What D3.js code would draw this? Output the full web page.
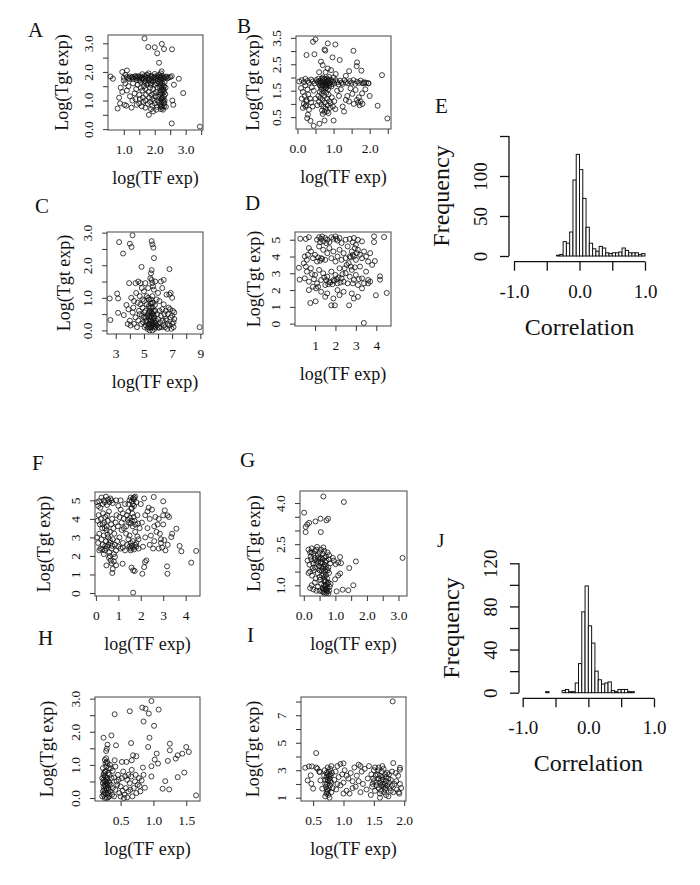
<!DOCTYPE html>
<html>
<head>
<meta charset="utf-8">
<script src="https://cdn.jsdelivr.net/npm/d3@7"></script>
<style>
body { margin: 0; background: #fff; }
text { font-family: "Liberation Serif", "Times New Roman", serif; fill: #111; }
</style>
</head>
<body>
<svg id="fig" width="700" height="885"></svg>
<script>
// ---- data: log(TF exp), Log(Tgt exp) pairs ----
const ptsA = [[1.67,3.17],[1.79,2.87],[2.0,2.86],[2.08,2.65],[2.23,2.98],[2.3,2.8],[2.56,2.79],[2.14,2.32],[2.22,2.02],
  [2.55,0.2],[3.46,0.09],[2.92,1.26],[2.78,1.76],[2.62,1.55],[2.57,1.0],[2.6,0.85],[2.5,1.82],[2.55,1.85],[2.45,1.8],
  [1.81,0.5],[1.95,0.62],[2.05,0.68],[1.7,0.75],[1.58,0.8],[1.5,0.9],[1.62,0.95],[1.88,0.7],[1.92,0.82],[2.0,0.9],
  [0.57,1.84],[0.65,1.76],[0.8,0.72],[0.85,1.1],[0.9,1.45],[0.95,2.0],[1.05,1.9],[1.1,2.05],[1.0,1.7],[1.02,0.85],[1.08,0.82],
  [1.1,1.35],[1.15,1.5],[1.2,1.15],[1.25,0.75],[1.28,1.0],[1.3,1.6],[1.35,1.25],[1.38,1.05],[1.42,0.85],[0.95,1.3],[1.18,1.75],[1.05,1.6],[0.88,0.9],
  [1.0,1.8],[1.1,1.82],[1.15,1.78],[1.2,1.84],[1.25,1.8],[1.3,1.76],[1.35,1.83],[1.4,1.79],[1.45,1.82],[1.5,1.77],[1.55,1.84],[1.6,1.8],
  [1.65,1.76],[1.7,1.83],[1.75,1.79],[1.8,1.85],[1.85,1.77],[1.9,1.82],[1.95,1.78],[2.0,1.84],[2.05,1.8],[2.1,1.76],[2.15,1.83],[2.2,1.79],
  [2.25,1.85],[2.3,1.8],[2.35,1.82],[2.4,1.77],[1.5,1.7],[1.6,1.92],[1.7,1.68],[1.8,1.95],[1.9,1.7],[2.0,1.93],[2.1,1.68],[2.2,1.95],
  [1.55,1.65],[1.75,1.9],[1.95,1.66],[2.15,1.9],[1.42,1.72],[1.62,1.72],[1.82,1.72],[2.02,1.72],[2.22,1.72],[1.68,1.62],[1.88,1.6],[2.08,1.6],
  [1.48,1.85],[1.58,1.78],[1.68,1.86],[1.78,1.74],[1.88,1.86],[1.98,1.8],[2.08,1.86],[2.18,1.82],[2.28,1.76],[2.38,1.84],[1.38,1.86],[1.28,1.82],
  [2.2,0.7],[2.25,0.75],[2.3,0.8],[2.18,0.85],[2.28,0.9],[2.22,0.95],[2.32,1.0],[2.2,1.05],[2.26,1.1],[2.3,1.15],[2.18,1.2],[2.24,1.25],
  [2.3,1.3],[2.2,1.35],[2.27,1.4],[2.22,1.45],[2.3,1.5],[2.18,1.55],[2.25,1.6],[2.32,1.65],[2.2,0.78],[2.28,1.02],[2.24,1.32],[2.16,1.48],
  [2.34,1.22],[2.14,0.92],[2.36,0.78],[2.12,1.12],[2.35,1.45],[2.15,1.65],
  [2.21,0.82],[2.27,0.68],[2.23,1.08],[2.29,1.38],[2.19,1.62],[2.26,1.52],[2.17,1.28],[2.31,0.92],
  [1.65,1.5],[1.7,1.4],[1.75,1.55],[1.8,1.3],[1.85,1.45],[1.9,1.2],[1.95,1.4],[2.0,1.55],[2.05,1.3],[1.72,1.2],[1.82,1.1],[1.92,1.05],
  [2.02,1.15],[1.6,1.35],[1.78,1.6],[1.88,1.55],[1.98,1.25],[2.08,1.45],[1.55,1.45],[1.5,1.2],[1.45,1.55],[1.4,1.4],[1.62,1.1],[1.52,1.05],
  [1.7,1.0],[1.85,0.95],[1.99,1.0],[2.1,1.0],[2.08,0.78],[1.78,0.88]];

const ptsB = [[0.43,3.35],[0.5,3.44],[0.84,3.29],[1.05,3.25],[0.75,3.06],[0.77,3.02],[0.25,2.85],[0.47,2.88],[1.55,3.01],[0.97,2.76],
  [1.17,2.66],[0.65,2.6],[1.65,2.57],[1.64,2.43],[1.77,2.26],[0.7,2.47],[0.84,2.34],[0.93,2.28],[1.06,2.13],[1.43,2.24],[2.34,2.09],[1.34,2.06],[0.6,2.2],[0.78,2.2],
  [0.05,1.85],[0.12,1.9],[0.18,1.82],[0.22,1.95],[0.28,1.87],[0.32,1.8],[0.38,1.92],[0.42,1.85],[0.48,1.78],[0.52,1.9],[0.56,1.83],[0.6,1.76],
  [0.62,1.88],[0.66,1.8],[0.68,1.95],[0.7,1.72],[0.72,1.85],[0.74,1.78],[0.76,1.9],[0.78,1.7],[0.8,1.82],[0.82,1.96],[0.84,1.75],[0.86,1.88],
  [0.88,1.68],[0.9,1.8],[0.92,1.92],[0.95,1.74],[0.98,1.85],[1.02,1.78],[1.06,1.9],[1.1,1.82],[1.14,1.74],[1.18,1.88],[1.22,1.8],[1.26,1.76],
  [1.3,1.9],[1.34,1.82],[1.4,1.78],[1.45,1.86],[1.5,1.8],[1.55,1.9],[1.6,1.76],[1.65,1.84],[1.7,1.8],[1.75,1.88],[1.8,1.78],[1.85,1.82],
  [1.9,1.8],[1.96,1.78],[0.65,1.65],[0.72,1.6],[0.8,1.62],[0.85,1.55],[0.7,2.0],[0.88,2.02],[0.62,1.7],[0.94,1.66],[0.58,1.95],[1.0,2.0],
  [0.64,1.82],[0.7,1.9],[0.76,1.76],[0.82,1.84],[0.88,1.78],[0.68,1.72],[0.74,1.95],[0.8,1.68],[0.86,1.92],[0.78,1.58],[0.66,1.55],[0.72,1.48],
  [0.62,1.45],[0.68,1.38],[0.74,1.3],[0.8,1.42],[0.86,1.35],[0.64,1.22],[0.7,1.15],[0.76,1.05],[0.82,1.2],[0.88,1.1],[0.66,0.98],[0.72,0.9],
  [0.78,0.82],[0.84,0.95],[0.9,0.85],[0.68,0.75],[0.75,0.7],[0.82,0.72],[0.6,1.08],[0.92,1.02],[0.95,1.25],[0.98,0.9],[1.02,1.1],[1.05,0.8],
  [0.58,1.3],[0.55,0.95],[0.7,0.62],[0.86,0.65],
  [0.1,1.6],[0.15,1.45],[0.2,1.3],[0.25,1.15],[0.12,1.2],[0.18,1.0],[0.24,0.95],[0.3,1.35],[0.35,1.2],[0.38,1.05],[0.42,0.9],[0.45,1.5],
  [0.4,1.62],[0.28,1.55],[0.22,1.7],[0.32,0.78],[0.15,0.85],[0.5,1.2],
  [0.29,0.59],[0.27,0.46],[0.36,0.36],[0.45,0.17],[0.61,0.25],[0.75,0.37],[1.0,0.37],[0.22,0.9],[0.25,1.09],
  [2.0,1.3],[1.97,1.78],[1.84,1.78],[2.22,0.93],[2.49,0.45],[1.75,1.09],[1.56,1.0],[1.65,1.15],[1.79,1.4],[1.7,1.25],[1.88,1.55],[1.61,1.53],
  [1.47,1.59],[1.38,1.3],[1.34,1.15],[1.25,0.9],[1.29,0.71],[1.43,1.09],[1.52,1.38],[1.72,0.95],[1.8,1.0],[1.68,1.05],[1.15,1.3],[1.2,1.55],[1.1,1.5]];

const ptsC = [[3.24,2.71],[4.0,2.66],[4.12,2.56],[4.19,2.92],[3.52,2.36],[5.55,2.74],[5.6,2.64],[5.67,2.54],[5.71,2.22],[5.55,1.85],[4.83,1.95],[6.81,1.88],[8.95,0.1],
  [2.62,0.32],[2.57,0.98],[3.17,0.98],[3.1,1.13],[3.17,0.54],[3.57,0.47],[3.76,0.78],[3.9,0.65],[4.0,0.3],[4.05,0.15],[3.85,0.2],[4.2,0.55],
  [4.3,0.9],[4.1,1.0],[4.45,1.15],[3.95,1.45],[4.4,1.45],[4.6,1.5],[4.75,1.45],
  [4.85,1.3],[5.0,1.2],[5.1,1.45],[5.3,1.3],[5.45,1.6],[5.5,1.75],[5.55,1.55],[5.6,1.45],[5.65,1.35],[5.7,1.25],[5.8,1.5],[6.0,1.15],
  [6.2,1.5],[6.4,1.55],[6.3,1.3],[6.6,1.1],[6.8,1.1],[7.0,1.0],[6.9,1.15],[6.1,0.9],[5.9,0.95],[4.7,1.05],[4.9,0.95],[5.2,1.05],[5.35,0.95],
  [4.5,0.1],[4.6,0.3],[4.7,0.5],[4.8,0.2],[4.9,0.7],[5.0,0.4],[5.05,0.1],[5.1,0.6],[5.15,0.3],[5.2,0.8],[5.25,0.05],[5.3,0.5],
  [5.35,0.2],[5.4,0.7],[5.45,0.35],[5.5,0.1],[5.55,0.55],[5.6,0.25],[5.65,0.85],[5.7,0.45],[5.75,0.05],[5.8,0.6],[5.85,0.3],[5.9,0.15],
  [5.95,0.5],[6.0,0.35],[6.05,0.08],[6.1,0.6],[6.15,0.25],[6.2,0.45],[6.25,0.1],[6.3,0.65],[6.35,0.3],[6.4,0.15],[6.45,0.5],[5.0,0.9],
  [5.3,1.0],[5.5,0.95],[5.6,1.05],[5.4,0.0],[5.6,0.0],[5.7,0.2],[5.55,0.4],[5.45,0.6],[5.35,0.75],[5.25,0.45],[5.15,0.15],[5.05,0.55],
  [4.95,0.25],[4.85,0.45],[4.75,0.8],[4.65,0.6],[4.55,0.85],[4.4,0.4],[4.3,0.2],[4.25,0.7],[5.62,0.7],[5.68,0.12],[5.52,0.28],[5.48,0.82],
  [5.72,0.38],[5.58,0.52],[5.42,0.18],[5.38,0.42],[5.78,0.78],[5.82,0.22],
  [5.4,0.3],[5.5,0.45],[5.6,0.15],[5.65,0.35],[5.55,0.2],[5.45,0.08],[5.75,0.25],[5.35,0.55],[5.62,0.5],[5.7,0.6],[5.5,0.7],[5.58,0.85],
  [5.3,0.1],[5.8,0.1],[6.0,0.2],[6.1,0.1],[5.2,0.25],[5.1,0.4],
  [6.5,0.1],[6.6,0.3],[6.7,0.5],[6.8,0.15],[6.9,0.4],[7.0,0.2],[7.1,0.1],[7.15,0.35],[6.55,0.6],[6.75,0.7],[7.05,0.6],[7.15,0.55],
  [6.95,0.05],[6.65,0.05],[6.85,0.65],[7.0,0.45],[6.4,0.8],[6.55,0.35],[6.7,0.2],[7.1,0.25]];

const ptsD = [[3.39,0.04],[3.98,1.69],[4.51,1.83],[0.77,1.23],[1.03,1.33],[1.8,1.09],[1.97,1.09],[2.67,1.09],[4.18,2.82],[4.18,2.62],
  [4.38,5.16],[3.89,5.2],[3.89,4.86],[3.93,3.73],[0.21,3.33],[0.25,2.62],[0.28,5.06],[0.55,5.05],[0.7,5.15],
  [1.1,5.0],[1.2,5.15],[1.3,5.05],[1.4,4.9],[1.5,5.1],[1.6,5.0],[1.7,4.85],[1.8,5.15],[1.9,5.05],[2.0,5.2],[2.1,4.95],[2.2,5.1],
  [2.3,4.8],[2.5,5.0],[2.7,5.05],[2.9,5.1],[3.1,5.0],[3.3,4.9],[1.35,5.2],[1.55,4.8],[1.25,4.85],[2.05,5.05],[2.85,4.85],[3.0,4.7],
  [0.5,4.0],[0.6,3.8],[0.7,4.5],[0.8,4.3],[0.9,3.9],[1.0,4.1],[1.1,3.7],[1.2,4.6],[1.3,3.9],[1.4,4.4],[1.5,3.8],[1.6,4.2],
  [1.7,4.5],[1.8,3.9],[1.9,4.3],[2.0,3.7],[2.1,4.0],[2.2,4.4],[2.3,3.8],[2.4,4.2],[2.5,3.9],[2.6,4.6],[2.7,4.0],[2.8,4.3],
  [2.9,4.0],[3.0,3.8],[3.1,4.4],[3.2,4.1],[3.3,3.9],[3.4,4.3],[3.5,4.0],[3.6,3.7],[3.7,4.2],[2.95,4.5],[2.85,4.1],[2.75,3.95],
  [3.05,4.2],[1.25,3.75],[1.35,3.85],[1.15,3.95],[0.45,3.6],[0.65,4.1],[0.55,3.4],
  [0.5,2.7],[0.6,3.1],[0.7,2.5],[0.8,3.3],[0.9,2.2],[1.0,2.9],[1.1,2.4],[1.2,3.2],[1.3,2.6],[1.4,3.0],[1.5,2.3],[1.6,2.8],
  [1.7,2.5],[1.8,3.1],[1.9,2.6],[2.0,2.9],[2.1,2.4],[2.2,3.3],[2.3,2.7],[2.4,2.5],[2.5,3.0],[2.6,2.4],[2.7,2.8],[2.8,3.2],
  [2.9,2.6],[3.0,2.9],[3.1,2.3],[3.2,3.4],[3.3,2.7],[3.4,2.4],[3.5,3.1],[3.6,2.6],[3.7,2.5],[3.8,3.5],[1.75,2.45],[1.85,2.35],
  [1.95,2.55],[2.05,2.65],[1.65,2.35],[2.15,2.75],[1.55,2.6],[2.25,2.45],[1.45,2.75],[2.35,2.95],[2.45,3.3],[2.55,3.5],[2.65,3.6],[2.75,3.4],
  [2.85,2.4],[2.95,3.35],[3.15,2.65],[1.05,2.1],[1.15,2.2],[0.95,2.65],[0.85,2.95],
  [1.5,1.6],[1.6,1.8],[1.9,1.5],[2.1,2.0],[2.4,1.9],[2.8,1.8],[2.9,1.5],[3.1,1.6],[2.2,1.7],[1.3,1.9],[0.7,2.0],[3.3,2.1],[3.6,2.4]];

const ptsF = [[1.66,0.02],[4.25,1.64],[4.47,2.27],[3.81,2.25],[3.73,2.54],[3.19,1.04],[3.17,1.44],[2.07,1.04],[0.73,1.08],[0.47,1.49],
  [2.15,1.4],[2.19,1.67],[2.25,1.76],[2.58,5.18],[3.0,4.95],[3.59,3.47],[3.36,3.02],[3.4,3.2],[3.19,4.19],[3.26,4.1],[3.0,4.19],[3.07,4.46],
  [1.66,1.22],[1.73,1.19],[1.59,1.37],[1.19,1.58],[0.75,1.3],[0.9,1.5],[0.8,1.7],[0.85,1.95],
  [2.1,2.5],[2.2,3.0],[2.3,3.5],[2.4,4.0],[2.5,4.5],[2.6,2.8],[2.7,3.3],[2.8,2.4],[2.9,2.9],[3.0,3.7],[3.1,2.3],[3.2,2.6],
  [2.2,4.2],[2.35,4.6],[2.45,3.1],[2.55,2.4],[2.65,4.1],[2.75,3.7],[2.85,3.2],[2.95,2.45],[3.05,2.85],[2.15,5.1],[2.0,4.8],[2.3,4.4],
  [2.05,3.8],[2.4,2.6],[2.6,3.6],[2.8,4.0],[2.9,2.7],
  [0.05,4.9],[0.1,4.7],[0.15,4.95],[0.2,4.6],[0.25,5.15],[0.3,4.8],[0.35,5.0],[0.4,4.9],[0.45,5.2],[0.5,4.75],[0.55,5.05],[0.6,4.9],
  [0.65,5.1],[0.7,5.0],[0.75,4.85],[0.08,3.9],[0.12,4.2],[0.18,3.7],[0.22,4.0],[0.28,3.5],[0.32,4.3],[0.38,3.8],[0.42,4.1],[0.48,3.6],
  [0.52,3.9],[0.58,4.4],[0.62,3.3],[0.68,3.7],[0.72,4.0],[0.78,3.5],[0.82,3.2],[0.88,3.8],[0.92,4.2],[0.98,3.6],[0.05,3.0],[0.1,2.7],
  [0.15,3.2],[0.2,2.4],[0.25,2.9],[0.3,2.6],[0.35,3.1],[0.4,2.3],[0.45,2.8],[0.5,2.5],[0.55,3.0],[0.6,2.2],[0.65,2.7],[0.7,2.4],
  [0.75,2.9],[0.8,2.1],[0.85,2.6],[0.9,2.3],[0.95,2.8],[1.0,2.5],[0.58,1.9],[0.62,2.0],[0.66,1.75],[0.7,1.6],[0.35,2.1],[0.15,2.3],
  [0.48,3.4],[0.52,3.15],[0.28,2.35],[0.72,2.55],[0.62,2.85],[0.42,2.55],
  [0.4,3.5],[0.5,4.2],[0.3,3.7],[0.45,2.4],[0.55,2.6],
  [1.05,3.0],[1.1,2.4],[1.15,3.4],[1.2,2.7],[1.25,4.0],[1.3,2.3],[1.35,3.6],[1.4,2.6],[1.45,4.4],[1.5,3.1],[1.55,2.4],[1.6,3.9],
  [1.65,2.8],[1.7,4.7],[1.75,3.3],[1.8,2.5],[1.85,4.2],[1.9,2.9],[1.5,5.0],[1.55,5.15],[1.6,4.95],[1.65,5.1],[1.7,5.05],[1.75,5.2],
  [1.8,4.9],[1.45,4.8],[1.58,4.55],[1.62,4.3],[1.68,4.1],[1.72,3.9],[1.76,3.7],[1.64,3.6],[1.56,3.75],[1.52,4.05],[1.48,3.8],[1.42,3.95],
  [1.38,4.2],[1.2,4.3],[1.1,4.5],[1.05,4.1],[1.15,3.8],[1.25,3.5],[1.35,3.2],[1.45,2.9],[1.6,2.55],[1.7,2.35],[1.8,2.7],[1.9,2.4],
  [1.75,2.6],[1.65,2.45],[1.55,2.7],[1.2,2.45],[1.0,4.7],[1.1,5.0],[0.9,5.0],[1.3,4.8],[1.95,3.5],[1.85,3.05],[1.88,3.75],
  [1.6,4.6],[1.65,4.8],[1.7,5.15],[1.5,2.5],[1.55,2.3]];

const ptsG = [[0.62,4.24],[1.27,4.04],[0.01,3.65],[0.06,3.13],[0.11,3.22],[0.17,3.28],[0.06,2.94],[0.37,3.33],[0.53,3.43],[0.72,3.37],
  [0.77,3.43],[0.54,2.94],[3.13,2.0],[1.65,1.87],[1.44,1.63],[1.15,2.03],[1.09,1.83],[1.18,1.81],[1.01,1.77],[1.15,1.43],[1.09,1.36],
  [0.99,1.22],[1.57,1.0],[1.41,0.82],[1.23,0.84],[1.04,0.78],[0.95,1.9],[0.92,2.0],
  [0.15,2.3],[0.2,2.2],[0.25,2.35],[0.3,2.15],[0.35,2.25],[0.4,2.3],[0.45,2.1],[0.5,2.2],[0.55,2.3],[0.6,2.15],[0.65,2.25],[0.7,2.05],
  [0.75,2.2],[0.8,2.1],[0.22,2.05],[0.42,2.4],[0.62,2.38],
  [0.12,1.9],[0.18,1.75],[0.24,1.95],[0.3,1.8],[0.36,1.65],[0.42,1.9],[0.48,1.7],[0.54,1.85],[0.6,1.95],[0.66,1.75],[0.72,1.9],[0.78,1.65],
  [0.84,1.8],[0.28,1.62],[0.5,1.98],[0.7,1.6],[0.4,1.78],[0.62,1.68],[0.8,1.95],[0.58,1.8],[0.46,1.85],[0.34,1.92],[0.68,1.85],
  [0.55,2.0],[0.65,2.0],[0.45,2.0],[0.7,1.7],[0.6,1.6],[0.5,1.55],[0.35,2.0],[0.25,2.2],[0.55,1.65],[0.66,1.3],
  [0.2,1.5],[0.26,1.35],[0.32,1.55],[0.38,1.25],[0.44,1.45],[0.5,1.3],[0.56,1.55],[0.62,1.4],[0.68,1.5],[0.74,1.25],[0.8,1.45],[0.65,1.2],
  [0.58,1.35],[0.7,1.38],[0.15,1.45],[0.52,1.2],[0.76,1.55],
  [0.25,1.0],[0.3,0.85],[0.35,1.1],[0.45,0.95],[0.5,0.8],[0.55,1.05],[0.6,0.9],[0.62,0.75],[0.65,1.15],[0.68,0.85],[0.7,1.0],[0.72,0.72],
  [0.75,0.9],[0.78,1.1],[0.8,0.8],[0.82,0.95],[0.66,0.7],[0.58,0.78],[0.74,0.78],[0.64,1.0],[0.2,0.9],[0.4,0.8],[0.85,1.05],[0.7,0.9],
  [0.7,1.15],[0.75,1.05],[0.68,0.95],[0.72,0.82],[0.62,0.85],[0.78,0.7]];

const ptsH = [[0.97,2.93],[0.83,2.73],[0.88,2.7],[0.93,2.55],[1.08,2.67],[0.41,2.53],[0.64,2.62],[0.85,2.31],[1.01,2.18],[0.24,1.82],
  [0.36,1.89],[0.43,1.59],[0.3,1.61],[0.29,1.49],[0.28,1.42],[0.66,1.66],[0.94,1.82],[0.92,1.54],[1.25,1.64],[1.25,1.44],[1.5,1.54],
  [1.54,1.39],[1.44,1.34],[1.37,1.29],[1.34,1.19],[1.22,1.12],[1.05,1.34],[1.02,1.16],[1.07,1.04],[0.97,0.96],[0.97,0.65],[1.37,0.63],
  [1.47,0.77],[1.18,0.51],[1.14,0.28],[1.24,0.26],[1.65,0.08],[0.69,1.29],[0.74,1.26],[0.67,1.14],[0.52,1.09],[0.59,1.09],[0.41,1.14],
  [0.84,0.92],[0.85,0.7],[0.87,0.31],[0.82,0.53],[0.79,0.36],
  [0.22,0.05],[0.23,0.2],[0.24,0.35],[0.25,0.5],[0.26,0.65],[0.27,0.8],[0.28,0.95],[0.29,1.1],[0.22,0.6],[0.23,0.9],[0.24,0.1],[0.25,0.25],
  [0.26,0.4],[0.27,0.15],[0.28,0.3],[0.29,0.45],[0.3,0.6],[0.31,0.75],[0.32,0.9],[0.33,0.05],[0.34,0.2],[0.3,0.1],[0.31,0.3],[0.32,0.5],
  [0.33,0.7],[0.34,1.0],[0.25,0.75],[0.27,1.05],[0.23,0.45],[0.29,0.0],[0.31,0.02],[0.26,0.0],[0.35,0.4],[0.36,0.6],[0.37,0.1],[0.38,0.3],
  [0.28,1.2],[0.3,1.05],[0.26,1.15],[0.24,0.7],
  [0.25,0.15],[0.27,0.35],[0.29,0.55],[0.31,0.15],[0.26,0.8],[0.28,0.62],[0.3,0.4],[0.32,0.25],[0.24,0.55],[0.33,0.45],[0.27,0.5],[0.29,0.25],
  [0.4,0.05],[0.42,0.25],[0.44,0.5],[0.46,0.7],[0.48,0.15],[0.5,0.35],[0.52,0.6],[0.54,0.8],[0.56,0.1],[0.58,0.3],[0.6,0.55],[0.62,0.2],
  [0.64,0.45],[0.66,0.65],[0.68,0.05],[0.7,0.3],[0.72,0.5],[0.74,0.15],[0.76,0.4],[0.55,0.0],[0.45,0.4],[0.5,0.05],[0.62,0.7],[0.4,0.62],
  [0.38,0.82],[0.6,0.02],[0.65,0.25],[0.53,0.22],[0.47,0.55],[0.57,0.65],[0.67,0.85],[0.73,0.7],[0.78,0.6],[0.8,0.2],[0.35,0.9],[0.42,0.95]];

const ptsI = [[1.81,8.01],[0.55,4.25],[1.0,3.5],[0.95,3.45],[1.82,3.52],[1.93,3.04],[1.93,3.18],
  [0.37,3.18],[0.43,3.28],[0.48,3.28],[0.46,2.63],[0.41,2.26],[0.47,2.02],[0.5,1.66],[0.57,3.11],[0.61,2.87],[0.62,2.26],[0.65,1.66],[0.6,2.9],[0.55,3.2],
  [0.7,1.1],[0.72,1.3],[0.74,1.5],[0.76,1.7],[0.78,1.9],[0.8,2.1],[0.7,2.3],[0.72,2.5],[0.74,2.7],[0.76,2.9],[0.78,3.1],[0.8,3.3],
  [0.71,1.8],[0.73,2.0],[0.75,2.2],[0.77,2.4],[0.79,2.6],[0.81,2.8],[0.69,3.0],[0.75,1.2],[0.77,1.0],[0.73,1.6],[0.8,1.4],[0.68,2.6],
  [0.82,1.7],[0.74,3.2],[0.7,2.0],[0.78,2.2],[0.73,1.4],[0.76,2.6],[0.72,2.8],[0.78,2.7],[0.74,2.3],
  [0.85,2.3],[0.88,1.6],[0.9,3.3],[0.92,2.5],[0.95,1.9],[0.98,2.7],[1.0,2.1],[1.02,3.0],[1.05,1.5],[1.08,2.4],[1.1,1.3],[1.12,2.8],
  [1.15,2.2],[1.18,3.2],[1.2,1.8],[1.22,2.6],[1.25,3.4],[1.28,1.4],[1.3,2.9],[1.32,2.0],[1.35,3.1],[1.38,1.6],[1.4,2.4],[1.42,3.3],
  [0.9,2.0],[1.05,2.6],[1.25,2.2],[1.15,1.7],[1.28,3.3],[0.87,2.9],[1.0,1.3],
  [1.45,1.2],[1.47,1.8],[1.49,2.4],[1.5,3.0],[1.52,1.5],[1.54,2.1],[1.56,2.7],[1.58,3.2],[1.6,1.3],[1.62,1.9],[1.64,2.5],[1.66,3.1],
  [1.68,1.6],[1.7,2.2],[1.72,2.8],[1.74,1.1],[1.76,1.7],[1.78,2.3],[1.8,2.9],[1.82,1.4],[1.84,2.0],[1.5,2.2],[1.55,1.9],[1.6,2.6],
  [1.65,2.0],[1.7,2.5],[1.75,2.1],[1.8,1.9],[1.58,1.7],[1.62,2.3],[1.67,1.4],[1.72,1.9],[1.53,2.6],[1.57,3.0],[1.63,2.9],[1.69,2.7],
  [1.48,2.0],[1.66,1.8],[1.74,2.4],[1.78,1.5],[1.46,2.7],[1.52,3.2],[1.64,3.3],[1.6,1.0],[1.7,1.2],
  [1.6,2.1],[1.65,2.3],[1.7,1.7],[1.75,2.7],[1.62,1.5],[1.68,2.0],[1.58,2.4],
  [1.87,2.2],[1.88,1.6],[1.9,2.6],[1.91,1.4],[1.93,2.0],[1.92,1.3],[1.86,2.8],[1.95,1.7]];

// histogram bins (left edges) and counts
const binsE   = [-0.35,-0.30,-0.25,-0.20,-0.15,-0.10,-0.05,0.00,0.05,0.10,0.15,0.20,0.25,0.30,0.35,0.40,0.45,0.50,0.55,0.60,0.65,0.70,0.75,0.80,0.85,0.90,0.95];
const countsE = [1,2,18,16,30,95,127,108,72,36,16,9,6,12,10,4,3,4,4,5,10,7,4,4,4,2,3];
const binsJ   = [-0.65,-0.60,-0.55,-0.50,-0.45,-0.40,-0.35,-0.30,-0.25,-0.20,-0.15,-0.10,-0.05,0.00,0.05,0.10,0.15,0.20,0.25,0.30,0.35,0.40,0.45,0.50,0.55,0.60,0.65];
const countsJ = [1,0,0,0,0,2,3,1,1,9,27,75,99,62,46,20,12,8,9,10,2,1,3,3,3,1,1];
const binWidth = 0.05;

const half = [0,0.5,1,1.5,2,2.5,3];
const svg = d3.select('#fig');

// ---- layout ----
const scatters = [
  {id:'A', pts:ptsA, box:[108,35,203,130], xd:[0.49,3.56], yd:[-0.03,3.29], xt:[1,1.5,2,2.5,3,3.5], xl:[1,2,3], xf:'.1f', yt:half, yl:[0,1,2,3], yf:'.1f', yo:40, lab:[28,37]},
  {id:'B', pts:ptsB, box:[296,36,391,129], xd:[-0.04,2.59], yd:[0.05,3.57], xt:[0,0.5,1,1.5,2,2.5], xl:[0,1,2], xf:'.1f', yt:[0.5,1,1.5,2,2.5,3,3.5], yl:[0.5,1.5,2.5,3.5], yf:'.1f', yo:37, lab:[237,33]},
  {id:'C', pts:ptsC, box:[107,232,203,334], xd:[2.38,9.19], yd:[-0.11,3.02], xt:[3,4,5,6,7,8,9], xl:[3,5,7,9], xf:'d', yt:half, yl:[0,1,2,3], yf:'.1f', yo:37, lab:[35,213]},
  {id:'D', pts:ptsD, box:[295,232,391,326], xd:[0.02,4.72], yd:[-0.14,5.46], xt:[1,2,3,4], xl:[1,2,3,4], xf:'d', yt:[0,1,2,3,4,5], yl:[0,1,2,3,4,5], yf:'d', yo:35, lab:[245,210]},
  {id:'F', pts:ptsF, box:[95,492,200,596], xd:[-0.04,4.64], yd:[-0.16,5.45], xt:[0,1,2,3,4], xl:[0,1,2,3,4], xf:'d', yt:[0,1,2,3,4,5], yl:[0,1,2,3,4,5], yf:'d', yo:45, lab:[32,470]},
  {id:'G', pts:ptsG, box:[300,491,407,596], xd:[-0.12,3.27], yd:[0.61,4.44], xt:half, xl:[0,1,2,3], xf:'.1f', yt:[1,1.5,2,2.5,3,3.5,4], yl:[1,2.5,4], yf:'.1f', yo:40, lab:[240,467]},
  {id:'H', pts:ptsH, box:[95,697,200,801], xd:[0.11,1.71], yd:[-0.09,3.05], xt:[0.5,1,1.5], xl:[0.5,1,1.5], xf:'.1f', yt:half, yl:[0,1,2,3], yf:'.1f', yo:42, lab:[38,645]},
  {id:'I', pts:ptsI, box:[301,697,406,801], xd:[0.30,2.03], yd:[0.76,8.33], xt:[0.5,1,1.5,2], xl:[0.5,1,1.5,2], xf:'.1f', yt:[1,2,3,4,5,6,7,8], yl:[1,3,5,7], yf:'d', yo:42, lab:[247,642]}
];

const hists = [
  {id:'E', bins:binsE, counts:countsE, ax:509, ay:261.7, xr:[514,645], yr:[256,136], ymax:150, yt:[0,50,100,150], yl:[0,50,100], lab:[435,113]},
  {id:'J', bins:binsJ, counts:countsJ, ax:519, ay:698.3, xr:[522.7,654], yr:[692.7,563.3], ymax:120, yt:[0,20,40,60,80,100,120], yl:[0,40,80,120], lab:[437,547]}
];

function labelFmt(list, f) {
  var fmt = d3.format(f);
  return d => list.includes(d) ? fmt(d).replace('\u2212', '-') : '';
}

function scatter(p) {
  var [x0, y0, x1, y1] = p.box,
      x = d3.scaleLinear().domain(p.xd).range([x0, x1]),
      y = d3.scaleLinear().domain(p.yd).range([y1, y0]),
      g = svg.append('g').attr('class', 'panel ' + p.id);

  g.append('g').selectAll('circle').data(p.pts).join('circle')
      .attr('cx', d => x(d[0]))
      .attr('cy', d => y(d[1]))
      .attr('r', 2.5)
      .attr('fill', 'none')
      .attr('stroke', '#111')
      .attr('stroke-width', 0.8);

  g.append('rect')
      .attr('x', x0).attr('y', y0)
      .attr('width', x1 - x0).attr('height', y1 - y0)
      .attr('fill', 'none')
      .attr('stroke', '#444');

  var xa = g.append('g')
      .attr('transform', 'translate(0,' + y1 + ')')
      .call(d3.axisBottom(x).tickValues(p.xt).tickSize(5).tickSizeOuter(0).tickFormat(labelFmt(p.xl, p.xf)));
  xa.select('.domain').remove();
  xa.selectAll('line').attr('stroke', '#333');
  xa.selectAll('text').attr('y', 24).attr('dy', null).style('font-size', '13.5px');

  var ya = g.append('g')
      .attr('transform', 'translate(' + x0 + ',0)')
      .call(d3.axisLeft(y).tickValues(p.yt).tickSize(5).tickSizeOuter(0).tickFormat(labelFmt(p.yl, p.yf)));
  ya.select('.domain').remove();
  ya.selectAll('line').attr('stroke', '#333');
  ya.selectAll('text')
      .attr('x', 0).attr('dy', null)
      .attr('text-anchor', 'middle')
      .attr('transform', 'translate(-15,0) rotate(-90)')
      .style('font-size', '13.5px');

  g.append('text')
      .attr('x', (x0 + x1) / 2).attr('y', y1 + 54)
      .attr('text-anchor', 'middle')
      .style('font-size', '18px')
      .text('log(TF exp)');

  g.append('text')
      .attr('transform', 'translate(' + (x0 - p.yo) + ',' + (y0 + y1) / 2 + ') rotate(-90)')
      .attr('text-anchor', 'middle')
      .style('font-size', '18px')
      .text('Log(Tgt exp)');

  g.append('text')
      .attr('x', p.lab[0]).attr('y', p.lab[1])
      .style('font-size', '21px')
      .text(p.id);
}

function histogram(h) {
  var x = d3.scaleLinear().domain([-1, 1]).range(h.xr),
      y = d3.scaleLinear().domain([0, h.ymax]).range(h.yr),
      g = svg.append('g').attr('class', 'panel ' + h.id),
      data = h.bins.map((b, i) => ({x: b, n: h.counts[i]}));

  g.append('g').selectAll('rect').data(data).join('rect')
      .attr('x', d => x(d.x))
      .attr('width', d => x(d.x + binWidth) - x(d.x))
      .attr('y', d => y(d.n))
      .attr('height', d => y(0) - y(d.n))
      .attr('fill', '#fff')
      .attr('stroke', '#111')
      .attr('stroke-width', 1);

  var xa = g.append('g')
      .attr('transform', 'translate(0,' + h.ay + ')')
      .call(d3.axisBottom(x).tickValues([-1, -0.5, 0, 0.5, 1]).tickSize(9).tickSizeOuter(0)
          .tickFormat(labelFmt([-1, 0, 1], '.1f')));
  xa.select('.domain').attr('d', 'M' + h.xr[0] + ',0H' + h.xr[1]).attr('stroke', '#111').attr('stroke-width', 1.3);
  xa.selectAll('line').attr('stroke', '#111').attr('stroke-width', 1.3);
  xa.selectAll('text').attr('y', 36).attr('dy', null).style('font-size', '19px');

  var ya = g.append('g')
      .attr('transform', 'translate(' + h.ax + ',0)')
      .call(d3.axisLeft(y).tickValues(h.yt).tickSize(9).tickSizeOuter(0).tickFormat(labelFmt(h.yl, 'd')));
  ya.select('.domain').attr('d', 'M0,' + h.yr[0] + 'V' + h.yr[1]).attr('stroke', '#111').attr('stroke-width', 1.3);
  ya.selectAll('line').attr('stroke', '#111').attr('stroke-width', 1.3);
  ya.selectAll('text')
      .attr('x', 0).attr('dy', null)
      .attr('text-anchor', 'middle')
      .attr('transform', 'translate(-22,0) rotate(-90)')
      .style('font-size', '19px');

  g.append('text')
      .attr('x', (h.xr[0] + h.xr[1]) / 2).attr('y', h.ay + 73)
      .attr('text-anchor', 'middle')
      .style('font-size', '24px')
      .text('Correlation');

  g.append('text')
      .attr('transform', 'translate(' + (h.ax - 60) + ',' + (h.yr[0] + h.yr[1]) / 2 + ') rotate(-90)')
      .attr('text-anchor', 'middle')
      .style('font-size', '24px')
      .text('Frequency');

  g.append('text')
      .attr('x', h.lab[0]).attr('y', h.lab[1])
      .style('font-size', h.id === 'J' ? '19px' : '21px')
      .text(h.id);
}

scatters.forEach(scatter);
hists.forEach(histogram);
</script>
</body>
</html>
